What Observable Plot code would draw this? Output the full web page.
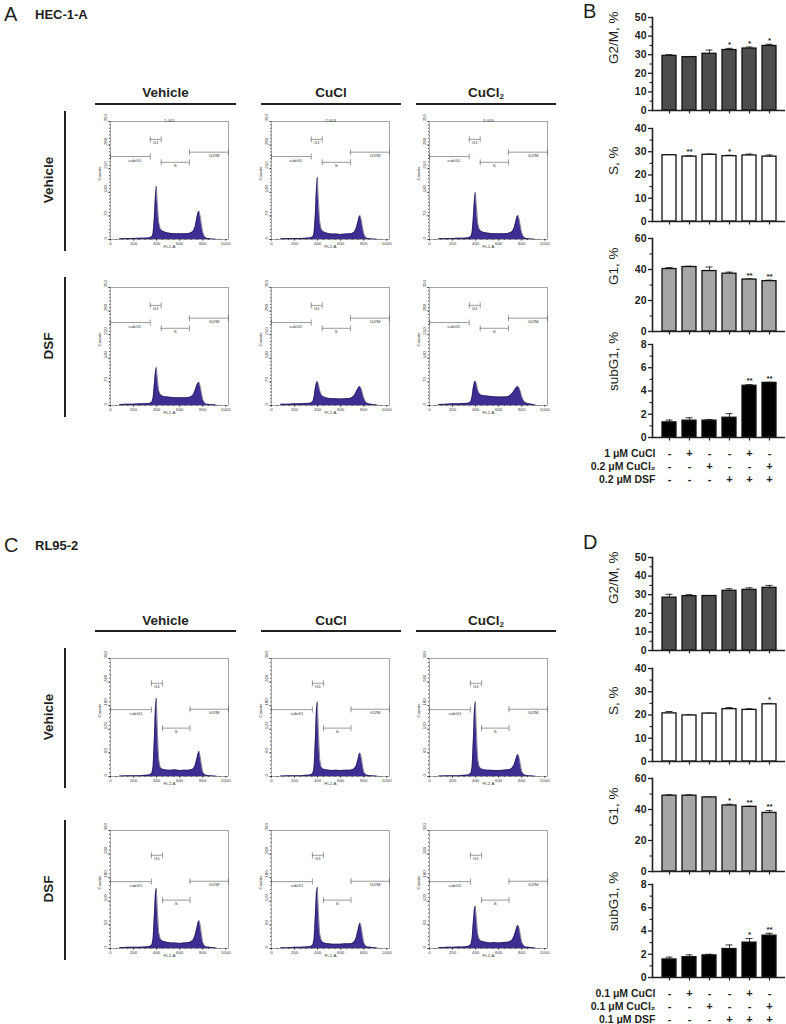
<!DOCTYPE html>
<html>
<head>
<meta charset="utf-8">
<script src="https://cdn.jsdelivr.net/npm/d3@7"></script>
<script src="https://cdn.jsdelivr.net/npm/@observablehq/plot@0.6"></script>
<style>
  body { margin: 0; background: #fff; }
  #fig { position: relative; width: 786px; height: 1024px; overflow: hidden; background: #fff;
         font-family: "Liberation Sans", Arial, Helvetica, sans-serif; color: #231f20; }
  #fig svg { overflow: visible; }
  #fig sub { font-size: 8px; vertical-align: -2px; }
</style>
</head>
<body>
<div id="fig"></div>
<script>
// ---------- Cell-cycle quantification (percent of cells), six treatment groups ----------
const groups = [1, 2, 3, 4, 5, 6];

// HEC-1-A
const hecG2M      = [29.4, 28.7, 30.5, 32.5, 33.3, 34.7];
const hecG2MErr   = [0.6, 0.3, 2.0, 0.9, 0.8, 0.9];
const hecG2MSig   = ["", "", "", "*", "*", "*"];
const hecS        = [28.5, 27.9, 28.7, 28.1, 28.4, 27.9];
const hecSErr     = [0.2, 0.4, 0.3, 0.4, 0.6, 0.7];
const hecSSig     = ["", "**", "", "*", "", ""];
const hecG1       = [40.3, 41.6, 39.0, 37.3, 33.5, 32.5];
const hecG1Err    = [0.9, 0.5, 2.6, 1.0, 0.4, 0.6];
const hecG1Sig    = ["", "", "", "", "**", "**"];
const hecSubG1    = [1.3, 1.45, 1.45, 1.7, 4.45, 4.7];
const hecSubG1Err = [0.2, 0.25, 0.1, 0.35, 0.1, 0.05];
const hecSubG1Sig = ["", "", "", "", "**", "**"];

// RL95-2
const rlG2M       = [28.4, 29.2, 29.3, 32.1, 32.6, 33.7];
const rlG2MErr    = [1.8, 0.8, 0.2, 1.1, 1.1, 1.3];
const rlG2MSig    = ["", "", "", "", "", ""];
const rlS         = [20.7, 19.8, 20.6, 22.5, 22.2, 24.6];
const rlSErr      = [0.8, 0.3, 0.2, 0.7, 0.5, 0.4];
const rlSSig      = ["", "", "", "", "", "*"];
const rlG1        = [48.9, 48.9, 47.8, 42.6, 41.7, 37.8];
const rlG1Err     = [0.6, 0.6, 0.3, 0.8, 0.4, 1.5];
const rlG1Sig     = ["", "", "", "*", "**", "**"];
const rlSubG1     = [1.55, 1.75, 1.9, 2.45, 3.0, 3.6];
const rlSubG1Err  = [0.2, 0.2, 0.1, 0.35, 0.35, 0.2];
const rlSubG1Sig  = ["", "", "", "", "*", "**"];

// Treatment design table
const hecTreatRows = ["1 \u03bcM CuCl", "0.2 \u03bcM CuCl\u2082", "0.2 \u03bcM DSF"];
const rlTreatRows  = ["0.1 \u03bcM CuCl", "0.1 \u03bcM CuCl\u2082", "0.1 \u03bcM DSF"];
const signCuCl  = ["-", "+", "-", "-", "+", "-"];
const signCuCl2 = ["-", "-", "+", "-", "-", "+"];
const signDSF   = ["-", "-", "-", "+", "+", "+"];

// ---------- Flow cytometry DNA histograms (FL2-A channel vs counts) ----------
const fl2a = [80, 150, 200, 250, 300, 340, 360, 370, 380, 390, 398, 408, 418, 430, 445, 470, 500, 530,
              560, 600, 640, 680, 700, 720, 735, 750, 760, 768, 778, 790, 800, 815, 830, 860, 900, 930];

const hecVehVeh   = [2, 3, 3, 4, 4, 5, 8, 18, 60, 130, 158, 100, 52, 33, 26, 22, 19, 18, 17, 17, 17, 18, 20, 25, 38, 65, 80, 84, 70, 42, 22, 8, 4, 2, 1, 0];
const hecVehCuCl  = [2, 3, 3, 3, 4, 5, 8, 20, 70, 150, 185, 110, 55, 32, 24, 20, 17, 16, 16, 15, 16, 17, 18, 22, 32, 52, 66, 71, 60, 36, 18, 7, 3, 2, 1, 0];
const hecVehCuCl2 = [2, 3, 3, 4, 4, 5, 9, 20, 62, 118, 140, 95, 50, 32, 25, 21, 19, 18, 17, 17, 17, 18, 20, 24, 34, 55, 68, 71, 60, 37, 19, 8, 4, 2, 1, 0];
const hecDsfVeh   = [3, 4, 4, 5, 5, 6, 10, 22, 60, 100, 113, 75, 45, 34, 29, 26, 25, 24, 23, 23, 23, 24, 26, 32, 45, 60, 67, 69, 58, 36, 18, 8, 4, 3, 2, 0];
const hecDsfCuCl  = [4, 4, 5, 5, 6, 7, 12, 25, 50, 66, 71, 62, 45, 33, 27, 23, 21, 20, 20, 19, 20, 21, 24, 30, 40, 50, 55, 56, 50, 36, 22, 12, 6, 4, 2, 0];
const hecDsfCuCl2 = [3, 4, 5, 5, 6, 7, 12, 26, 52, 68, 73, 63, 46, 36, 31, 29, 28, 27, 26, 25, 25, 26, 30, 36, 44, 52, 55, 56, 52, 40, 27, 15, 8, 5, 3, 0];

const rlVehVeh    = [1, 2, 2, 2, 3, 4, 8, 25, 90, 175, 199, 110, 45, 25, 19, 17, 16, 16, 17, 15, 16, 16, 17, 20, 28, 45, 58, 64, 52, 28, 12, 5, 3, 2, 1, 0];
const rlVehCuCl   = [1, 2, 2, 2, 3, 4, 8, 24, 88, 170, 190, 105, 44, 25, 19, 17, 16, 15, 16, 15, 16, 16, 17, 20, 27, 42, 55, 60, 50, 28, 12, 5, 3, 2, 1, 0];
const rlVehCuCl2  = [1, 2, 2, 2, 3, 4, 8, 24, 88, 168, 190, 108, 46, 26, 20, 17, 16, 16, 15, 15, 16, 17, 18, 22, 30, 44, 53, 56, 48, 28, 13, 6, 3, 2, 1, 0];
const rlDsfVeh    = [2, 3, 3, 3, 4, 5, 9, 25, 80, 140, 153, 90, 42, 26, 20, 17, 15, 14, 14, 13, 14, 15, 17, 22, 34, 52, 66, 71, 60, 35, 16, 7, 4, 3, 2, 0];
const rlDsfCuCl   = [2, 2, 3, 3, 4, 5, 9, 24, 80, 142, 156, 88, 38, 22, 16, 13, 12, 11, 11, 11, 12, 12, 13, 17, 27, 45, 58, 65, 56, 33, 15, 7, 4, 3, 2, 0];
const rlDsfCuCl2  = [2, 3, 3, 4, 4, 6, 10, 25, 65, 100, 108, 72, 38, 25, 19, 17, 15, 14, 15, 14, 15, 16, 18, 22, 32, 46, 55, 59, 52, 32, 16, 8, 4, 3, 2, 0];

// Gates: names, channel ranges and marker heights
const gateNames = ["subG1", "G1", "S", "G2/M"];
const hecGateX1 = [0, 345, 440, 685];
const hecGateX2 = [345, 440, 685, 1024];
const hecGateY  = [246, 297, 229, 259];
const rlGateX1  = [0, 355, 452, 690];
const rlGateX2  = [355, 452, 690, 1024];
const rlGateY   = [170, 237, 123, 171];

const histTicksX = [0, 200, 400, 600, 800, 1000];
const hecTicksY  = [0, 70, 140, 210, 280, 350];
const rlTicksY   = [0, 60, 120, 180, 240, 300];
const hecRunIds  = ["1.001", "2.003", "3.005"];

const columnNames = ["Vehicle", "CuCl", "CuCl<sub>2</sub>"];
const rowNames = ["Vehicle", "DSF"];

// ---------- helpers ----------
const FONT = '"Liberation Sans", Arial, Helvetica, sans-serif';
const INK = "#231f20";
const fig = document.getElementById("fig");

function put(node, left, top) {
  node.style.position = "absolute";
  node.style.left = left + "px";
  node.style.top = top + "px";
  fig.appendChild(node);
  return node;
}
function html(content, left, top, css) {
  const d = document.createElement("div");
  d.innerHTML = content;
  Object.assign(d.style, {whiteSpace: "nowrap", lineHeight: "1"}, css || {});
  return put(d, left, top);
}
function hline(x1, x2, y, w) {
  const d = document.createElement("div");
  Object.assign(d.style, {width: (x2 - x1) + "px", height: w + "px", background: INK});
  return put(d, x1, y);
}
function vline(x, y1, y2, w) {
  const d = document.createElement("div");
  Object.assign(d.style, {width: w + "px", height: (y2 - y1) + "px", background: INK});
  return put(d, x, y1);
}
function rotated(content, cx, cy, css) {
  const d = html(content, cx, cy, css);
  d.style.transform = "translate(-50%, -50%) rotate(-90deg)";
  return d;
}

// vertical end-cap used on the gate markers
const vTick = {draw(ctx, size) { const h = Math.sqrt(size); ctx.moveTo(0, -h); ctx.lineTo(0, h); }};

// ---------- histogram panel ----------
const H = {ml: 26, mr: 4, mt: 9, mb: 14, w: 118, h: 118};
function histogram(counts, yMax, yTicks, gx1, gx2, gy, note) {
  const data = fl2a.map((x, i) => ({x, y: counts[i]}));
  const gates = gateNames.map((name, i) => ({name, x1: gx1[i], x2: gx2[i], y: gy[i]}));
  const ends = gates.flatMap(d => [{x: d.x1, y: d.y}, {x: d.x2, y: d.y}]);
  const centred = gates.filter(d => d.name === "G1" || d.name === "S");
  const trailing = gates.filter(d => d.name === "subG1" || d.name === "G2/M");
  const marks = [
    Plot.areaY(data, {x: "x", y: "y", fill: "#3e2d93"}),
    Plot.lineY(data, {x: "x", y: "y", stroke: "#1c1638", strokeWidth: 0.5}),
    Plot.frame({stroke: "#808080", strokeWidth: 0.7}),
    Plot.axisX({ticks: histTicksX, tickSize: 1.6, tickPadding: 0.6, tickFormat: d => String(d), label: null}),
    Plot.axisX({ticks: d3.range(0, 1025, 50), tickSize: 0.9, tickFormat: () => "", label: null}),
    Plot.axisY({ticks: yTicks, tickSize: 1.6, tickFormat: () => "", label: null}),
    Plot.axisY({ticks: d3.range(0, yMax + 1, 10), tickSize: 0.9, tickFormat: () => "", label: null}),
    Plot.text(yTicks, {y: d => d, text: d => String(d), frameAnchor: "left", dx: -4.6, rotate: -90}),
    Plot.text(["Counts"], {text: d => d, frameAnchor: "left", dx: -11, rotate: -90}),
    Plot.text(["FL2-A"], {text: d => d, frameAnchor: "bottom", dy: 8.5}),
    Plot.ruleY(gates, {y: "y", x1: "x1", x2: "x2", stroke: "#555", strokeWidth: 0.6}),
    Plot.dot(ends, {x: "x", y: "y", symbol: vTick, r: 1.7, stroke: "#555", strokeWidth: 0.6, fill: "none"}),
    Plot.text(centred, {x: d => (d.x1 + d.x2) / 2, y: "y", text: "name", dy: 3.6}),
    Plot.text(trailing, {x: "x2", y: "y", text: "name", textAnchor: "end", dx: -9, dy: 3.6})
  ];
  if (note) marks.push(Plot.text([note], {text: d => d, frameAnchor: "top", dy: -3}));
  return Plot.plot({
    width: H.ml + H.w + H.mr, height: H.mt + H.h + H.mb,
    marginLeft: H.ml, marginRight: H.mr, marginTop: H.mt, marginBottom: H.mb,
    x: {domain: [0, 1024], label: null},
    y: {domain: [0, yMax], label: null},
    style: {fontFamily: FONT, fontSize: "4.4px", color: "#3a3a3a", background: "transparent", overflow: "visible"},
    marks
  });
}

// ---------- bar panel ----------
const B = {left: 590, ml: 62, mr: 1, mt: 12, mb: 9, w: 196, h: 93};
const bandX = {type: "band", domain: groups, paddingInner: 0.3, paddingOuter: 0.38, label: null};
function bars(values, errors, sig, fill, yMax, major, minor, yLabel) {
  const data = groups.map((g, i) => ({g, v: values[i], e: errors[i], s: sig[i]}));
  return Plot.plot({
    width: B.w, height: B.mt + B.h + B.mb,
    marginLeft: B.ml, marginRight: B.mr, marginTop: B.mt, marginBottom: B.mb,
    x: bandX,
    y: {domain: [0, yMax], label: null},
    style: {fontFamily: FONT, fontSize: "10.5px", fontWeight: "bold", color: INK, background: "transparent", overflow: "visible"},
    marks: [
      Plot.ruleX(data, {x: "g", y1: "v", y2: d => d.v + d.e, stroke: INK, strokeWidth: 0.9}),
      Plot.tickY(data, {x: "g", y: d => d.v + d.e, inset: 3.5, stroke: INK, strokeWidth: 0.9}),
      Plot.barY(data, {x: "g", y: "v", fill, stroke: "#111", strokeWidth: 1.3}),
      Plot.text(data.filter(d => d.s), {x: "g", y: d => d.v + d.e, text: "s", dy: -4, fontSize: 8}),
      Plot.axisY({ticks: major, tickSize: 4, tickPadding: 2, strokeWidth: 1.3, label: null}),
      Plot.axisY({ticks: minor, tickSize: 2.5, strokeWidth: 1.1, tickFormat: () => "", label: null}),
      Plot.axisX({tickSize: 3.5, strokeWidth: 1.2, tickFormat: () => "", label: null}),
      Plot.ruleY([0], {stroke: INK, strokeWidth: 1.6}),
      Plot.frame({anchor: "left", stroke: INK, strokeWidth: 1.6}),
      Plot.text([yLabel], {text: d => d, frameAnchor: "left", dx: -39, rotate: -90, fontSize: 13.5, fontWeight: "normal"})
    ]
  });
}
function treatments(rows) {
  const signs = [signCuCl, signCuCl2, signDSF];
  const cells = rows.flatMap((r, j) => groups.map((g, i) => ({g, r, s: signs[j][i]})));
  return Plot.plot({
    width: B.w, height: 39, marginLeft: B.ml, marginRight: B.mr, marginTop: 6, marginBottom: 6,
    x: {...bandX, axis: null},
    y: {type: "point", domain: rows, padding: 0, axis: null},
    style: {fontFamily: FONT, fontSize: "10.5px", fontWeight: "bold", color: INK, background: "transparent", overflow: "visible"},
    marks: [
      Plot.text(cells, {x: "g", y: "r", text: "s", fontSize: 11}),
      Plot.text(rows, {y: d => d, text: d => d, frameAnchor: "left", textAnchor: "end", dx: 3})
    ]
  });
}

// ---------- assemble a block (A/B or C/D) ----------
function block(o) {
  // panel letters and cell line
  html(o.letter, 4, o.letterTop, {fontSize: "20px"});
  html(o.line, 35, o.letterTop + 4, {fontSize: "13px", fontWeight: "bold"});
  html(o.barLetter, 583, o.letterTop - 3, {fontSize: "20px"});

  // column headers
  const colX = [[95, 236], [261, 401], [416, 556]];
  columnNames.forEach((name, i) => {
    html(name, colX[i][0], o.headTop, {width: (colX[i][1] - colX[i][0]) + "px", textAlign: "center", fontSize: "13.5px", fontWeight: "bold"});
    hline(colX[i][0], colX[i][1], o.headLine, 1.8);
  });

  // row labels
  rowNames.forEach((name, r) => {
    const t = o.rowTops[r];
    rotated(name, 49, t + H.h / 2, {fontSize: "13.5px", fontWeight: "bold"});
    vline(64, t - 10, t + H.h + 12, 1.8);
  });

  // histograms
  const lefts = [110, 271, 429];
  o.hists.forEach((row, r) => row.forEach((counts, c) => {
    const svg = histogram(counts, o.yMax, o.yTicks, o.gx1, o.gx2, o.gy, r === 0 && o.notes ? o.notes[c] : null);
    put(svg, lefts[c] - H.ml, o.rowTops[r] - H.mt);
  }));

  // bar charts
  const specs = [
    [o.g2m, "#4d4d4d", 50, [0, 10, 20, 30, 40, 50], [5, 15, 25, 35, 45], "G2/M, %"],
    [o.s, "#ffffff", 40, [0, 10, 20, 30, 40], [5, 15, 25, 35], "S, %"],
    [o.g1, "#a6a6a6", 60, [0, 20, 40, 60], [10, 30, 50], "G1, %"],
    [o.sub, "#000000", 8, [0, 2, 4, 6, 8], [1, 3, 5, 7], "subG1, %"]
  ];
  specs.forEach(([d, fill, yMax, major, minor, lab], i) => {
    put(bars(d[0], d[1], d[2], fill, yMax, major, minor, lab), B.left, o.barTops[i] - B.mt);
  });
  put(treatments(o.rows), B.left, o.tableTop);
}

block({
  letter: "A", line: "HEC-1-A", barLetter: "B", letterTop: 4,
  headTop: 86, headLine: 103,
  rowTops: [121, 287],
  hists: [[hecVehVeh, hecVehCuCl, hecVehCuCl2], [hecDsfVeh, hecDsfCuCl, hecDsfCuCl2]],
  notes: hecRunIds,
  yMax: 350, yTicks: hecTicksY, gx1: hecGateX1, gx2: hecGateX2, gy: hecGateY,
  g2m: [hecG2M, hecG2MErr, hecG2MSig], s: [hecS, hecSErr, hecSSig],
  g1: [hecG1, hecG1Err, hecG1Sig], sub: [hecSubG1, hecSubG1Err, hecSubG1Sig],
  barTops: [17, 128, 238, 344], tableTop: 446, rows: hecTreatRows
});

block({
  letter: "C", line: "RL95-2", barLetter: "D", letterTop: 535,
  headTop: 614, headLine: 630,
  rowTops: [658, 830],
  hists: [[rlVehVeh, rlVehCuCl, rlVehCuCl2], [rlDsfVeh, rlDsfCuCl, rlDsfCuCl2]],
  notes: null,
  yMax: 300, yTicks: rlTicksY, gx1: rlGateX1, gx2: rlGateX2, gy: rlGateY,
  g2m: [rlG2M, rlG2MErr, rlG2MSig], s: [rlS, rlSErr, rlSSig],
  g1: [rlG1, rlG1Err, rlG1Sig], sub: [rlSubG1, rlSubG1Err, rlSubG1Sig],
  barTops: [557, 668, 778, 884], tableTop: 986, rows: rlTreatRows
});
</script>
</body>
</html>
